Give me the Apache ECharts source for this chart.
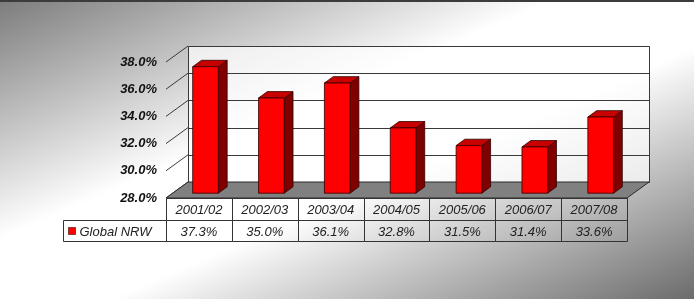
<!DOCTYPE html>
<html>
<head>
<meta charset="utf-8">
<script src="https://cdn.jsdelivr.net/npm/echarts@6/dist/echarts.min.js"></script>
<style>
  html, body { margin: 0; padding: 0; }
  #main { width: 694px; height: 299px; }
</style>
</head>
<body>
<div id="main"></div>
<script>
var categories = ['2001/02', '2002/03', '2003/04', '2004/05', '2005/06', '2006/07', '2007/08'];
var nrwValues = [37.3, 35.0, 36.1, 32.8, 31.5, 31.4, 33.6];
var yTicks = [28, 30, 32, 34, 36, 38];
var seriesName = 'Global NRW';

// 3d look: shift of the back wall against the front plane
var DX = 22, DY = -16;
var FONT = '"Liberation Sans", Arial, sans-serif';

function px(v) { return Math.round(v) + 0.5; }

function line(x1, y1, x2, y2, color) {
    return {
        type: 'line',
        shape: { x1: x1, y1: y1, x2: x2, y2: y2 },
        style: { stroke: color || '#333', lineWidth: 1 }
    };
}

function renderWalls(params, api) {
    var band = api.size([1, 0])[0];
    var yMin = yTicks[0], yMax = yTicks[yTicks.length - 1];
    var left = api.coord([0, yMin])[0] - band / 2;
    var right = api.coord([categories.length - 1, yMin])[0] + band / 2;
    var yb = api.coord([0, yMin])[1];
    var yt = api.coord([0, yMax])[1];
    var kids = [];
    // back wall
    kids.push({
        type: 'polygon',
        shape: { points: [[px(left + DX), px(yt + DY)], [px(right + DX), px(yt + DY)],
                          [px(right + DX), px(yb + DY)], [px(left + DX), px(yb + DY)]] },
        style: { fill: 'rgba(255,255,255,0.7)', stroke: '#3a3a3a', lineWidth: 1 }
    });
    for (var i = 0; i < yTicks.length; i++) {
        var y = api.coord([0, yTicks[i]])[1];
        kids.push(line(px(left + DX), px(y + DY), px(right + DX), px(y + DY), '#3a3a3a'));
        kids.push(line(left, y, left + DX, y + DY, '#3a3a3a'));
    }
    // floor
    kids.push({
        type: 'polygon',
        shape: { points: [[left, yb], [right, yb], [right + DX, yb + DY], [left + DX, yb + DY]] },
        style: { fill: '#808080', stroke: '#2a2a2a', lineWidth: 1 }
    });
    return { type: 'group', children: kids };
}

function renderBar(params, api) {
    var i = api.value(0), v = api.value(1);
    var base = api.coord([i, yTicks[0]]);
    var top = api.coord([i, v]);
    var band = api.size([1, 0])[0];
    var w = band * 0.39;
    var ox = DX * 0.3, oy = DY * 0.3;
    var bx = DX * 0.4, by = DY * 0.4;
    var x0 = base[0] - w / 2 + ox, x1 = x0 + w;
    var yb = base[1] + oy, yt = top[1] + oy;
    var edge = { stroke: '#300000', lineWidth: 0.8 };
    return {
        type: 'group',
        children: [
            { type: 'polygon', shape: { points: [[x1, yt], [x1 + bx, yt + by], [x1 + bx, yb + by], [x1, yb]] },
              style: Object.assign({ fill: '#800000' }, edge) },
            { type: 'polygon', shape: { points: [[x0, yt], [x1, yt], [x1 + bx, yt + by], [x0 + bx, yt + by]] },
              style: Object.assign({ fill: '#c80000' }, edge) },
            { type: 'rect', shape: { x: x0, y: yt, width: w, height: yb - yt },
              style: Object.assign({ fill: '#ff0000' }, edge) }
        ]
    };
}

function renderTable(params, api) {
    var i = api.value(0), v = api.value(1);
    var base = api.coord([i, yTicks[0]]);
    var band = api.size([1, 0])[0];
    var l = px(base[0] - band / 2), r = px(base[0] + band / 2);
    var y0 = px(base[1]), y1 = px(base[1] + 22), y2 = px(base[1] + 43);
    var font = 'italic 13px ' + FONT;
    var kids = [
        { type: 'rect', shape: { x: l, y: y0, width: r - l, height: y2 - y0 },
          style: { fill: 'none', stroke: '#333', lineWidth: 1 } },
        line(l, y1, r, y1),
        { type: 'text', style: { text: categories[i], x: base[0], y: (y0 + y1) / 2 + 1,
          align: 'center', verticalAlign: 'middle', font: font, fill: '#222' } },
        { type: 'text', style: { text: v.toFixed(1) + '%', x: base[0], y: (y1 + y2) / 2 + 1,
          align: 'center', verticalAlign: 'middle', font: font, fill: '#222' } }
    ];
    if (params.dataIndex === 0) {
        var ll = px(l - 104);
        kids.push({ type: 'rect', shape: { x: ll, y: y1, width: l - ll, height: y2 - y1 },
                    style: { fill: 'none', stroke: '#333', lineWidth: 1 } });
        kids.push({ type: 'rect', shape: { x: ll + 5, y: (y1 + y2) / 2 - 3.5, width: 7, height: 7 },
                    style: { fill: '#ff0000', stroke: '#300000', lineWidth: 0.6 } });
        kids.push({ type: 'text', style: { text: seriesName, x: ll + 16, y: (y1 + y2) / 2 + 1,
                    align: 'left', verticalAlign: 'middle', font: font, fill: '#222' } });
    }
    return { type: 'group', children: kids };
}

var barData = nrwValues.map(function (v, i) { return [i, v]; });

var myChart = echarts.init(document.getElementById('main'));

// gradient runs across the anti-diagonal: dark top-left and bottom-right corners
var option = {
    backgroundColor: new echarts.graphic.LinearGradient(0, 0, 217, 504, [
        { offset: 0, color: '#7c7c7c' },
        { offset: 0.4, color: '#ffffff' },
        { offset: 0.58, color: '#ffffff' },
        { offset: 1, color: '#6c6c6c' }
    ], true),
    animation: false,
    graphic: [{
        type: 'line',
        shape: { x1: 0, y1: 1, x2: 694, y2: 1 },
        style: { stroke: '#3c3c3c', lineWidth: 2 }
    }],
    grid: { left: 166, right: 67, top: 62, bottom: 101 },
    xAxis: {
        type: 'category',
        data: categories,
        axisLine: { show: false },
        axisTick: { show: false },
        axisLabel: { show: false }
    },
    yAxis: {
        type: 'value',
        min: yTicks[0],
        max: yTicks[yTicks.length - 1],
        interval: 2,
        axisLine: { show: false },
        axisTick: { show: false },
        splitLine: { show: false },
        axisLabel: {
            margin: 9,
            fontFamily: FONT,
            fontSize: 13,
            fontWeight: 'bold',
            fontStyle: 'italic',
            color: '#111',
            formatter: function (v) { return v.toFixed(1) + '%'; }
        }
    },
    series: [
        { type: 'custom', name: 'walls', renderItem: renderWalls, data: [[0, yTicks[0]]],
          encode: { x: 0, y: 1 }, z: 1, silent: true },
        { type: 'custom', name: seriesName, renderItem: renderBar, data: barData,
          encode: { x: 0, y: 1 }, z: 2 },
        { type: 'custom', name: 'table', renderItem: renderTable, data: barData,
          encode: { x: 0, y: 1 }, z: 3, silent: true }
    ]
};

myChart.setOption(option);
</script>
</body>
</html>
